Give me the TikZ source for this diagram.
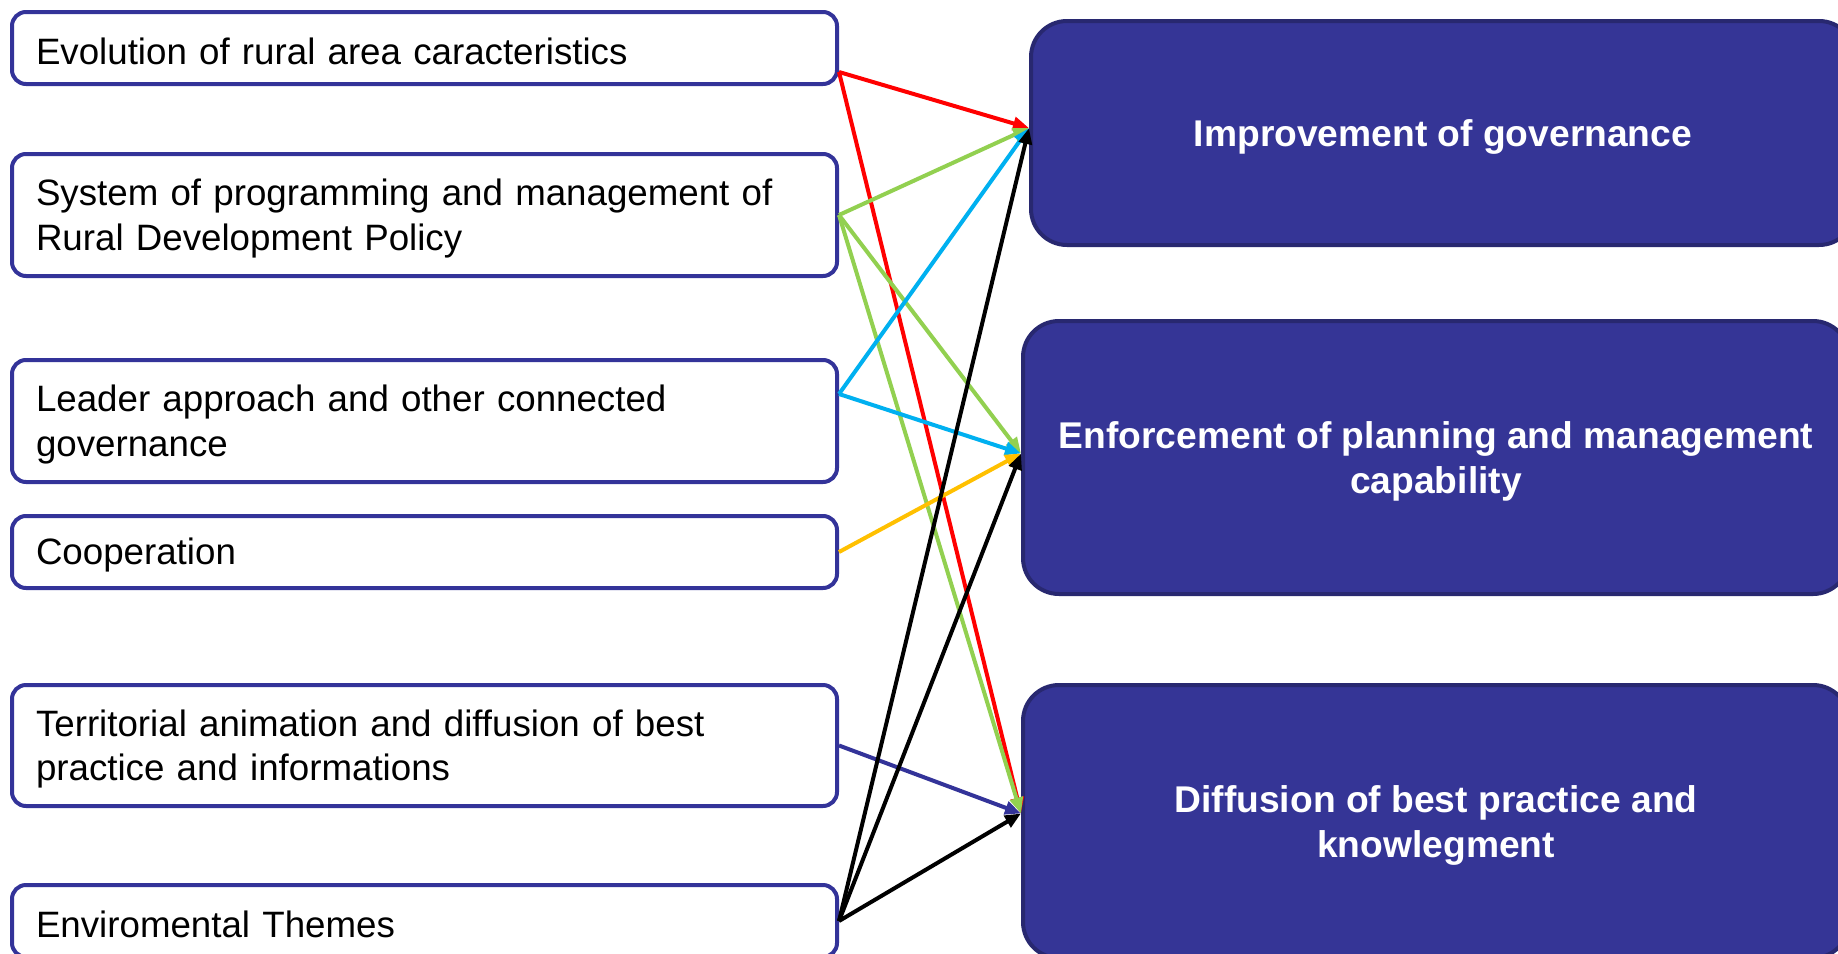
\documentclass[tikz,border=0pt]{standalone}
\usepackage{fontspec}
\setmainfont{Liberation Sans}
\usetikzlibrary{arrows.meta}
\definecolor{navy}{RGB}{51,51,153}
\definecolor{navyfill}{RGB}{53,53,150}
\definecolor{navyedge}{RGB}{40,40,112}
\definecolor{lgreen}{RGB}{146,208,80}
\definecolor{lcyan}{RGB}{0,176,240}
\definecolor{lyellow}{RGB}{255,192,0}
\begin{document}
\begin{tikzpicture}[x=1pt,y=-1pt,
 src/.style={draw=navy, line width=4pt, rounded corners=14pt, fill=white, minimum width=825pt, inner sep=0pt},
 srctext/.style={text width=777pt, align=left, inner sep=0pt, yshift=-3.5pt, font=\fontsize{36.7pt}{44.5pt}\selectfont},
 tgt/.style={draw=navyedge, fill=navyfill, line width=4pt, rounded corners=36pt, inner sep=0pt},
 tgttext/.style={text=white, align=center, inner sep=0pt, yshift=-4pt, font=\bfseries\fontsize{37.2pt}{44.5pt}\selectfont},
 link/.style={line width=4pt, -{Triangle[length=16pt,width=13pt]}}
]
\useasboundingbox (0,0) rectangle (1838,953);
\clip (0,0) rectangle (1838,953);
\fill[white] (0,0) rectangle (1838,953);

\node[src, minimum height=72pt, label={[srctext]center:Evolution of rural area caracteristics}] (b1) at (424.5,48) {};
\node[src, minimum height=122pt, label={[srctext]center:System of programming and management of\\Rural Development Policy}] (b2) at (424.5,215) {};
\node[src, minimum height=122pt, label={[srctext]center:Leader approach and other connected\\governance}] (b3) at (424.5,421) {};
\node[src, minimum height=72pt, label={[srctext]center:Cooperation}] (b4) at (424.5,552) {};
\node[src, minimum height=121pt, label={[srctext]center:Territorial animation and diffusion of best\\practice and informations}] (b5) at (424.5,745.5) {};
\node[src, minimum height=72pt, label={[srctext]center:Enviromental Themes}] (b6) at (424.5,921) {};

\node[tgt, minimum width=824pt, minimum height=224pt, label={[tgttext]center:Improvement of governance}] (A) at (1443,133) {};
\node[tgt, minimum width=826pt, minimum height=273pt, label={[tgttext]center:Enforcement of planning and management\\capability}] (B) at (1436,457.5) {};
\node[tgt, minimum width=826pt, minimum height=273pt, label={[tgttext]center:Diffusion of best practice and\\knowlegment}] (C) at (1436,821.5) {};

\coordinate (tA) at ([yshift=5pt]A.west);
\coordinate (tB) at ([yshift=4pt]B.west);
\coordinate (tC) at ([yshift=8pt]C.west);
\coordinate (s1) at ([yshift=-24pt]b1.east);
\coordinate (s3) at ([yshift=27pt]b3.east);

\draw[link, red] (s1) -- (tA);
\draw[link, red] (s1) -- (tC);
\draw[link, lgreen] (b2.east) -- (tA);
\draw[link, lgreen] (b2.east) -- (tB);
\draw[link, lgreen] (b2.east) -- (tC);
\draw[link, lcyan] (s3) -- (tA);
\draw[link, lcyan] (s3) -- (tB);
\draw[link, lyellow] (b4.east) -- (tB);
\draw[link, navy] (b5.east) -- (tC);
\draw[link, black] (b6.east) -- (tA);
\draw[link, black] (b6.east) -- (tB);
\draw[link, black] (b6.east) -- (tC);
\end{tikzpicture}
\end{document}
